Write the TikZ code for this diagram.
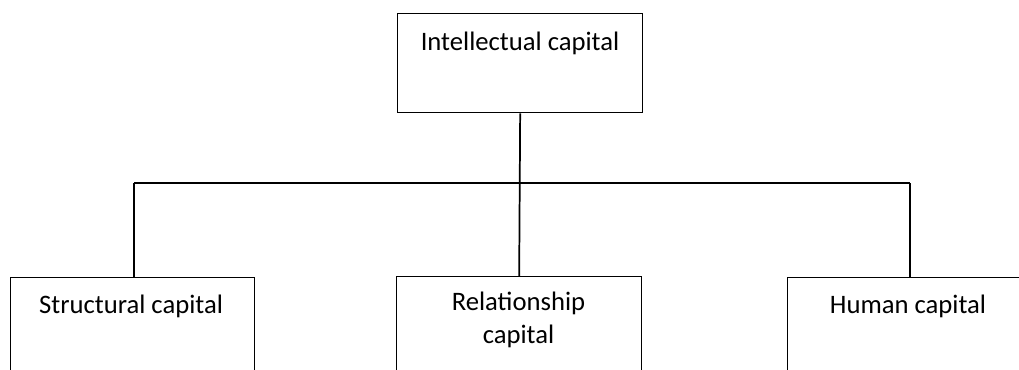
\documentclass[tikz,border=0pt]{standalone}
\usepackage{fontspec}
\setmainfont{Carlito}
\begin{document}
\begin{tikzpicture}[x=0.75pt,y=-0.75pt,
  box/.style={draw=black,line width=1pt,fill=white,inner sep=0pt,anchor=north west},
  lbl/.style={anchor=base,inner sep=0pt,font=\fontsize{20}{24.75}\selectfont,align=center},
  conn/.style={draw=black,line width=1.3pt}]
\useasboundingbox (0,0) rectangle (1019,369);
\clip (0,0) rectangle (1019,369);
\fill[white] (0,0) rectangle (1019,369);
% boxes
\node[box,minimum width=183.75pt,minimum height=74.25pt] (ic) at (397,13) {};
\node[box,minimum width=183pt,minimum height=100pt] (sc) at (10,277) {};
\node[box,minimum width=183.75pt,minimum height=100pt] (rc) at (396,276) {};
\node[box,minimum width=200pt,minimum height=100pt] (hc) at (787,277) {};
% labels
\node[lbl] (ict) at (520,50) {Intellectual capital};
\node[lbl] (sct) at (131,313) {Structural capital};
\node[lbl] (rct) at (518.5,343) {Relationship\\capital};
\node[lbl] (hct) at (908,313) {Human capital};
% connectors
\coordinate (jl) at (134,183);
\coordinate (jr) at (910,183);
\draw[conn] (jl) -- (jr);
\draw[conn] (ic.south) -- (rc.north);
\draw[conn] (jl) -- (jl |- sc.north);
\draw[conn] (jr) -- (jr |- hc.north);
\end{tikzpicture}
\end{document}
